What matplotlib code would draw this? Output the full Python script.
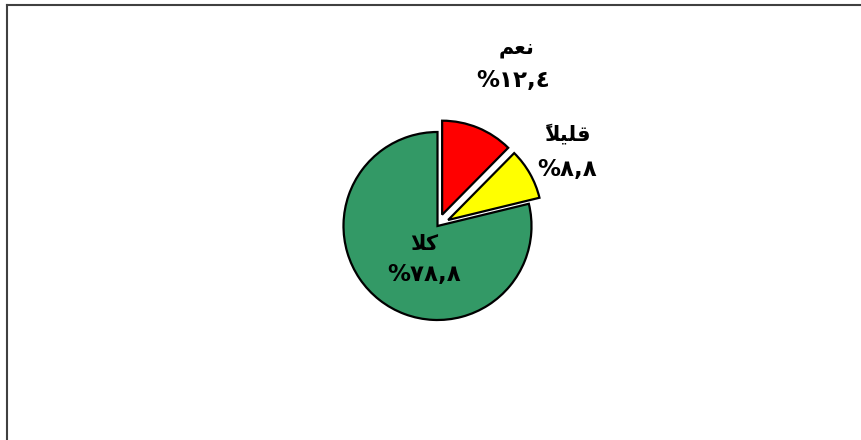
import matplotlib
matplotlib.use("Agg")
import matplotlib.pyplot as plt
from matplotlib.lines import Line2D

# النسب المئوية للإجابات (نعم، قليلاً، كلا)
names = ["\uFEE2\uFECC\uFEE7", "\u064B\uFEFC\uFEF4\uFEE0\uFED7", "\uFEFC\uFEDB"]
values = [12.4, 8.8, 78.8]
value_labels = ["%\u0661\u0662,\u0664", "%\u0668,\u0668", "%\u0667\u0668,\u0668"]
colors = ["#FF0000", "#FFFF00", "#339966"]
explode = [0.13, 0.13, 0.0]

# مواضع النصوص (الاسم ثم النسبة) بوحدات المحور
name_pos = [(0.84, 1.89), (1.38, 0.98), (-0.14, -0.19)]
value_pos = [(0.80, 1.55), (1.38, 0.60), (-0.14, -0.52)]

fig = plt.figure(figsize=(8.61, 4.40), dpi=100)
ax = fig.add_axes([249.5 / 861, 26 / 440, 376 / 861, 376 / 440])

ax.pie(values, colors=colors, explode=explode, startangle=90, counterclock=False,
       wedgeprops=dict(edgecolor="black", linewidth=1.6))
ax.set_xlim(-2, 2)
ax.set_ylim(-2, 2)
ax.set_aspect("equal")
ax.axis("off")

for name, label, (nx, ny), (vx, vy) in zip(names, value_labels, name_pos, value_pos):
    ax.text(nx, ny, name, ha="center", va="center", fontsize=15, fontweight="bold",
            family="DejaVu Sans")
    ax.text(vx, vy, label, ha="center", va="center", fontsize=16.5, fontweight="bold",
            family="DejaVu Sans")

# إطار الرسم (الأعلى والأيسر)
fig.add_artist(Line2D([6.5 / 861, 6.5 / 861], [0, 1 - 5 / 440], color="#404040", lw=1.5,
                      transform=fig.transFigure))
fig.add_artist(Line2D([6.5 / 861, 1], [1 - 5 / 440, 1 - 5 / 440], color="#404040", lw=1.5,
                      transform=fig.transFigure))

fig.savefig("out.png", dpi=100)
